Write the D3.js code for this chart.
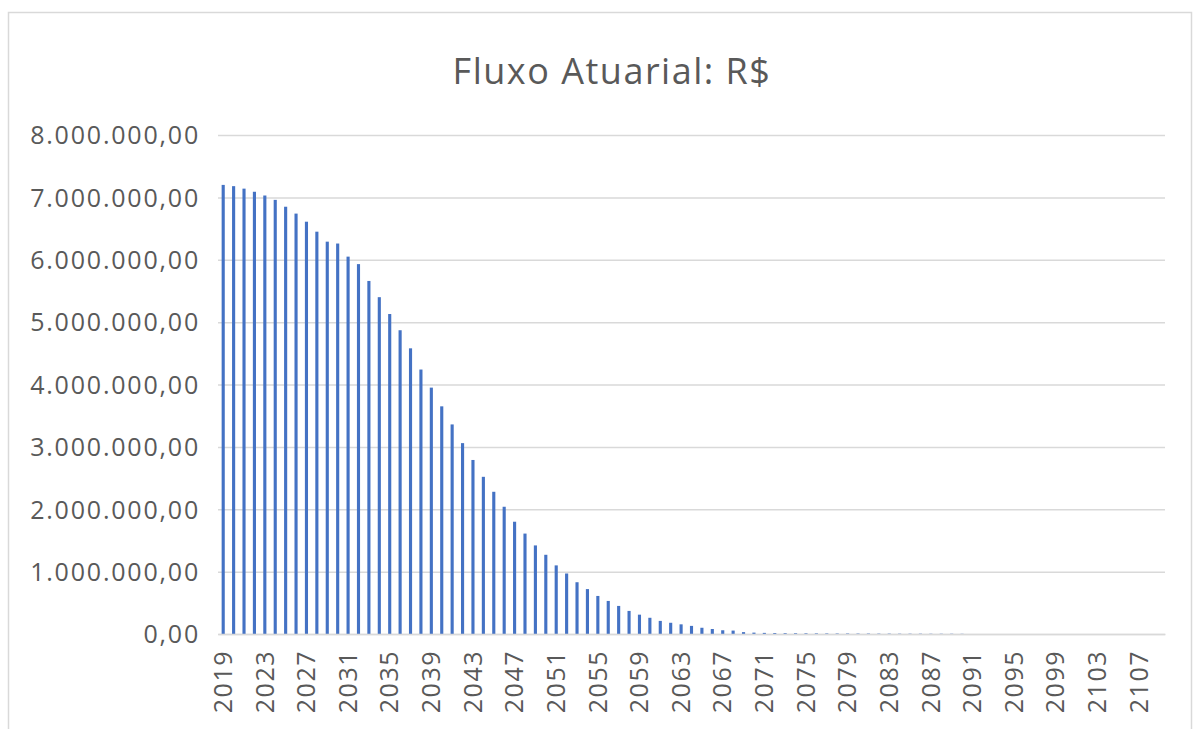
<!doctype html>
<html lang="pt-BR">
  <head>
    <meta charset="UTF-8">
    <title>Fluxo Atuarial: R$</title>
    <style>
      body { margin: 0; background: #fff; }
      .tick text, .title { font-family: "Open Sans", sans-serif; fill: #595959; }
      .grid line { stroke: #d9d9d9; stroke-width: 1.5px; }
    </style>
  </head>
  <body>
    <svg width="1202" height="729"></svg>
    <script src="https://d3js.org/d3.v7.min.js"></script>
    <script>

      // anos do fluxo
      var firstYear = 2019,
          lastYear = 2109;
      var years = d3.range(firstYear, lastYear + 1);

      // valores (R$)
      var values = [
        7200000, 7180000, 7140000, 7090000, 7030000, 6960000, 6850000, 6740000, 6610000, 6450000,
        6290000, 6260000, 6050000, 5930000, 5660000, 5400000, 5130000, 4870000, 4580000, 4240000,
        3950000, 3650000, 3360000, 3060000, 2790000, 2520000, 2280000, 2040000, 1800000, 1610000,
        1420000, 1270000, 1100000, 970000, 830000, 720000, 610000, 530000, 450000, 370000,
        310000, 260000, 210000, 180000, 155000, 130000, 100000, 80000, 60000, 55000,
        30000, 22000, 18000, 15000, 13000, 12000, 11000, 10000, 9000, 8000,
        8000, 7000, 7000, 6000, 6000, 5000, 5000, 5000, 4000, 4000,
        4000, 3000, 0, 0, 0, 0, 0, 0, 0, 0,
        0, 0, 0, 0, 0, 0, 0, 0, 0, 0,
        0
      ];

      var yTicks = [0, 1000000, 2000000, 3000000, 4000000, 5000000, 6000000, 7000000, 8000000];
      var xTickEvery = 4;

      var svg = d3.select("svg"),
          margin = {top: 135, right: 37, bottom: 95, left: 218},
          width = +svg.attr("width") - margin.left - margin.right,
          height = +svg.attr("height") - margin.top - margin.bottom;

      // borda do grafico
      svg.append("rect")
          .attr("x", 8.5).attr("y", 12.5)
          .attr("width", 1183).attr("height", 740)
          .attr("fill", "none")
          .attr("stroke", "#d9d9d9")
          .attr("stroke-width", 1.5);

      svg.append("text")
          .attr("class", "title")
          .attr("x", 612).attr("y", 84)
          .attr("text-anchor", "middle")
          .style("font-size", "36px")
          .style("letter-spacing", "1.5px")
          .text("Fluxo Atuarial: R$");

      var g = svg.append("g").attr("transform", "translate(" + margin.left + "," + margin.top + ")");

      var br = d3.formatLocale({decimal: ",", thousands: ".", grouping: [3], currency: ["R$", ""]});
      var fmt = br.format(",.2f");

      var x = d3.scaleBand()
          .domain(years)
          .range([0, width])
          .paddingInner(0.7)
          .paddingOuter(0.35);

      var y = d3.scaleLinear()
          .domain([0, 8000000])
          .range([height, 0]);

      var yAxis = g.append("g")
          .attr("class", "grid")
          .call(d3.axisLeft(y).tickValues(yTicks).tickSize(-width).tickFormat(fmt));
      yAxis.select(".domain").remove();
      yAxis.selectAll(".tick text")
          .attr("x", -18)
          .attr("dy", "0.35em")
          .style("font-size", "25px")
          .style("letter-spacing", "1.8px");

      g.selectAll(".bar")
          .data(values)
          .enter().append("rect")
          .attr("class", "bar")
          .attr("x", function (d, i) { return x(years[i]); })
          .attr("width", x.bandwidth())
          .attr("y", function (d) { return y(d); })
          .attr("height", function (d) { return height - y(d); })
          .attr("fill", "#4472c4");

      var xAxis = g.append("g")
          .attr("transform", "translate(0," + height + ")")
          .call(d3.axisBottom(x)
              .tickValues(years.filter(function (d, i) { return i % xTickEvery === 0; }))
              .tickSize(0));
      xAxis.select(".domain").attr("stroke", "#d9d9d9").attr("stroke-width", 1.5);
      xAxis.selectAll(".tick text")
          .attr("transform", "rotate(-90)")
          .attr("text-anchor", "end")
          .attr("x", -16)
          .attr("y", 0)
          .attr("dy", "0.35em")
          .style("font-size", "25px")
          .style("letter-spacing", "1.5px");

    </script>
  </body>
</html>
